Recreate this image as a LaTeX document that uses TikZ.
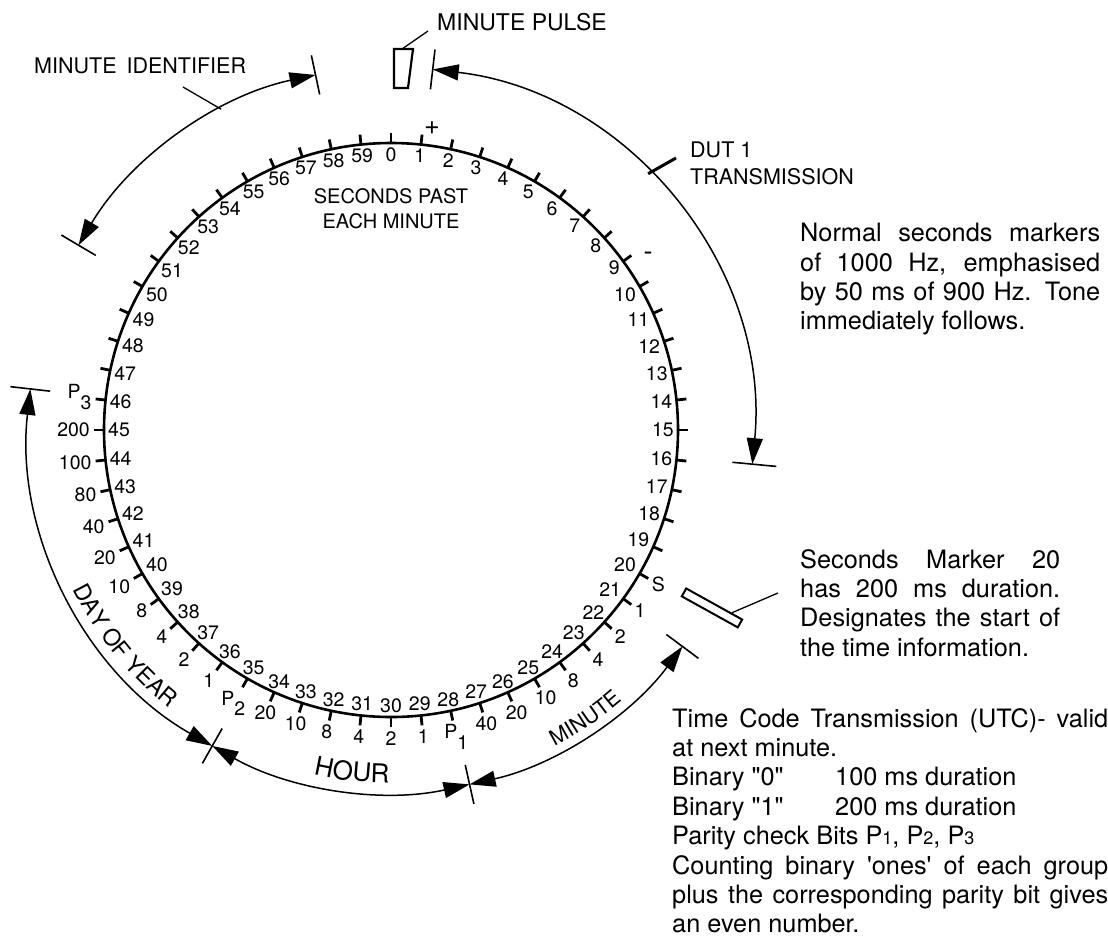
\documentclass[tikz,border=0pt]{standalone}
\usepackage{fontspec}
\setmainfont{TeX Gyre Heros}
\newfontfamily\hvq{TeX Gyre Heros}
\usetikzlibrary{arrows.meta,decorations.text,calc}
\newcommand{\Psb}[1]{P\raisebox{-0.55em}{#1}}
\newcommand{\fsz}[1]{\fontsize{#1}{#1}\selectfont}
\newcommand{\cfont}{\fontsize{23}{23}\selectfont}
\newcommand{\hfont}{\fontsize{26}{26}\selectfont}
\newcommand{\mfont}{\fontsize{21.5}{21.5}\selectfont}
\begin{document}
\begin{tikzpicture}[x=1pt,y=1pt,
  circ/.style={line width=2.6pt},
  tickmark/.style={line width=2.8pt},
  arcline/.style={line width=1.5pt},
  bar/.style={line width=1.6pt},
  dbl/.style={arcline,{Triangle[length=26pt,width=16pt]}-{Triangle[length=26pt,width=16pt]}},
  num/.style={inner sep=0pt,font=\fsz{19.5}},
  lbl/.style={inner sep=0pt},
  txt/.style={anchor=north west,inner sep=0pt,align=justify,font=\hvq\fontsize{25.3}{29.4}\selectfont},
  curved/.style={decorate,decoration={text along path,text={#1},text align=center}}
]
\useasboundingbox (0,0) rectangle (1108,-938);
\coordinate (C) at (391,-430);
\def\R{287}\def\Rt{297}\def\Ri{283}\def\Ro{301}
\def\RA{363}\def\Rin{343}\def\Rout{383}

% main dial
\draw[circ] (C) circle[radius=\R];
\foreach \s in {0,...,59}{
  \pgfmathtruncatemacro{\a}{mod(450-6*\s,360)}
  \draw[tickmark] ($(C)+(\a:\R)$) -- ($(C)+(\a:\Rt)$);
  \node[num,anchor=\a] (s\s) at ($(C)+(\a:\Ri)$) {\s};
}
\foreach \s/\t in {20/S,21/1,22/2,23/4,24/8,25/10,26/20,27/40,28/\Psb{1},
  29/1,30/2,31/4,32/8,33/10,34/20,35/\Psb{2},
  36/1,37/2,38/4,39/8,40/10,41/20,42/40,43/80,44/100,45/200,46/\Psb{3}}{
  \pgfmathtruncatemacro{\a}{mod(450-6*\s,360)}
  \pgfmathtruncatemacro{\b}{mod(630-6*\s,360)}
  \node[num,anchor=\b] (w\s) at ($(C)+(\a:\Ro)$) {\t};
}
\node[lbl,font=\fsz{27}] (plus) at (432,-128) {+};
\node[lbl,font=\fsz{27}] (minus) at (648,-256) {-};
\node[lbl,font=\fontsize{20}{25}\selectfont,align=center] (sp) at (391,-209) {SECONDS PAST\\EACH MINUTE};

% minute pulse
\draw[line width=2.2pt] (394,-49) coordinate (mp) -- (413,-49) -- (408,-88) -- (394,-88) -- cycle;
\node[lbl,anchor=west,font=\fsz{23}] (mptxt) at (437,-22) {MINUTE PULSE};
\coordinate (mpl) at (402,-49);
\draw[line width=1.3pt] (mpl) -- (428,-31);

% minute identifier
\draw[dbl] ($(C)+(102:\RA)$) arc[start angle=102,end angle=149.4,radius=\RA];
\draw[bar] ($(C)+(102:\Rin)$) -- ($(C)+(102:\Rout)$);
\draw[bar] ($(C)+(149.4:\Rin)$) -- ($(C)+(149.4:\Rout)$);
\node[lbl,anchor=west,font=\fsz{21.5}] (mid) at (34,-66) {MINUTE\hspace{4pt} IDENTIFIER};
\draw[line width=1.3pt] ($(C)+(117.9:\RA)$) -- (183,-87);

% DUT1
\draw[dbl] ($(C)+(83.4:\RA)$) arc[start angle=83.4,end angle=-5.4,radius=\RA];
\draw[bar] ($(C)+(83.4:\Rin)$) -- ($(C)+(83.4:\Rout)$);
\draw[bar] ($(C)+(-5.4:\Rin)$) -- ($(C)+(-5.4:\Rout+4)$);
\draw[line width=3pt] ($(C)+(44.9:\RA)$) -- (676,-158);
\node[lbl,anchor=north west,align=left,font=\fontsize{21.5}{27}\selectfont] (dut) at (690,-142) {DUT 1\\TRANSMISSION};

% seconds marker 20
\node[draw,line width=2pt,minimum width=64pt,minimum height=9pt,inner sep=0pt,rotate=-29] (sm) at ($(C)+(-29:367)$) {};
\draw[line width=1.3pt] ($(sm.north)!0.6!(sm.north east)$) -- (778,-593);

% bottom groups
\draw[dbl] ($(C)+(173.5:\RA)$) arc[start angle=173.5,end angle=240.5,radius=\RA];
\draw[dbl] ($(C)+(240.5:\RA)$) arc[start angle=240.5,end angle=282.5,radius=\RA];
\draw[dbl] ($(C)+(282.5:\RA)$) arc[start angle=282.5,end angle=323.4,radius=\RA];
\foreach \g in {173.5,240.5,282.5,323.4}{
  \draw[bar] ($(C)+(\g:\Rin)$) -- ($(C)+(\g:\Rout)$);
}
\path[curved={|\cfont|DAY OF YEAR}] ($(C)+(192:356)$) arc[start angle=192,end angle=246,radius=356];
\path[curved={|\hfont|HOUR}] ($(C)+(246:353)$) arc[start angle=246,end angle=281,radius=353];
\path[curved={|\mfont|MINUTE}] ($(C)+(287:356)$) arc[start angle=287,end angle=321,radius=356];

% text blocks
\node[txt,text width=300pt] (normal) at (800,-223) {\hyphenpenalty=10000 Normal seconds markers\linebreak of 1000 Hz, emphasised\linebreak by 50 ms of 900 Hz. Tone\linebreak immediately follows.};
\node[txt,text width=260pt] (secm) at (800,-549) {\hyphenpenalty=10000 Seconds Marker 20\linebreak has 200 ms duration.\linebreak Designates the start of\linebreak the time information.};
\node[txt,text width=436pt] (tc) at (672,-708) {\hyphenpenalty=10000 Time Code Transmission (UTC)- valid\linebreak at next minute.\\
\makebox[163pt][l]{Binary "0"}100 ms duration\\
\makebox[163pt][l]{Binary "1"}200 ms duration\\
Parity check Bits P{\fsz{18}1}, P{\fsz{18}2}, P{\fsz{18}3}\\
Counting binary 'ones' of each group\linebreak plus the corresponding parity bit gives\linebreak an even number.};
\end{tikzpicture}
\end{document}
